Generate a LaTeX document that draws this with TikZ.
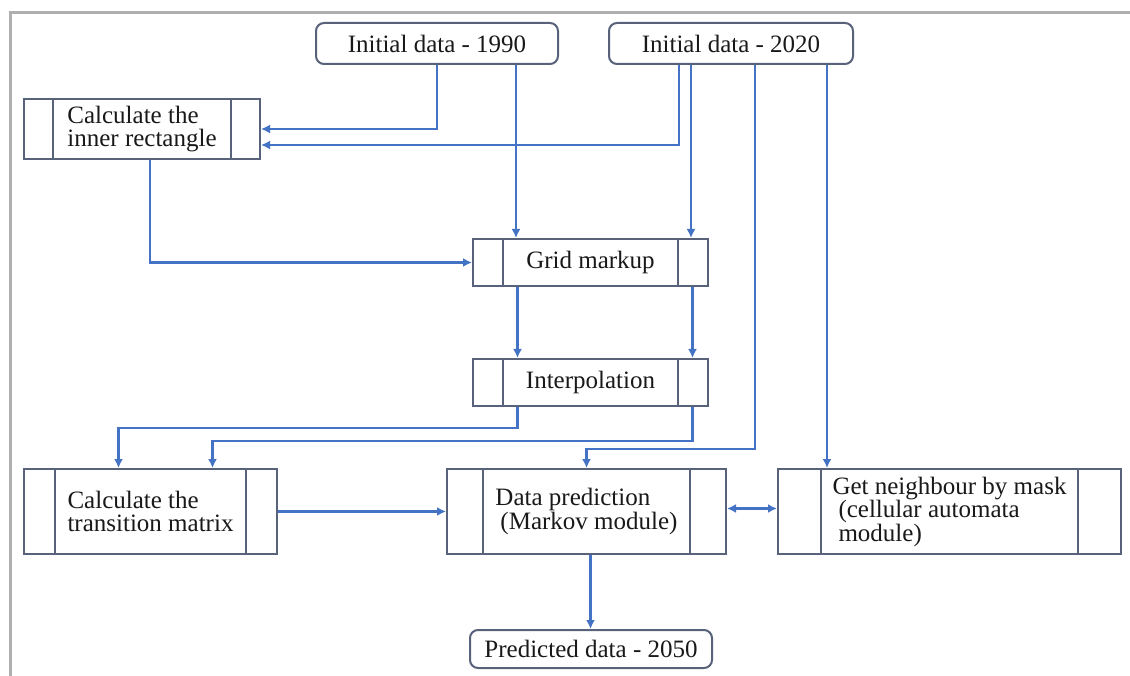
\documentclass[tikz,border=0pt]{standalone}
\usepackage{fontspec}
\setmainfont{Liberation Serif}
\usepackage{xcolor}
\usetikzlibrary{arrows.meta}

\definecolor{flowblue}{RGB}{68,114,196}
\definecolor{boxgray}{RGB}{88,98,122}
\definecolor{framegray}{RGB}{175,175,175}
\definecolor{txtgray}{RGB}{25,25,25}

\newcommand\diagfont{\fontsize{25}{23.5}\selectfont\lineskiplimit=-20pt\relax}

\begin{document}
\begin{tikzpicture}[x=1pt, y=-1pt,
  font=\diagfont,
  flow/.style={draw=flowblue, line width=2.5pt, -{Latex[length=9pt,width=9pt]}},
  dataio/.style={draw=boxgray, line width=2pt, rounded corners=8pt, fill=white, text=txtgray, inner sep=0pt},
  procbox/.style={draw=boxgray, line width=2pt, fill=white, text=txtgray, align=left, inner sep=0pt,
    path picture={\draw[boxgray, line width=2pt]
      ([xshift=#1]path picture bounding box.north west) -- ([xshift=#1]path picture bounding box.south west)
      ([xshift=-#1]path picture bounding box.north east) -- ([xshift=-#1]path picture bounding box.south east);}}]

\useasboundingbox (0,0) rectangle (1130,676);

\draw [framegray, line width=3pt] (1130,13) -- (10,13) -- (10,676);

\node[dataio, minimum width=242, minimum height=41] (init1990) at (437,43.5) {Initial data - 1990};
\node[dataio, minimum width=244, minimum height=41] (init2020) at (731,43.5) {Initial data - 2020};

\node[procbox=29, minimum width=236, minimum height=60] (calcinner) at (142,129) {Calculate the\\inner rectangle};

\node[procbox=30, minimum width=235, minimum height=47] (grid) at (590.5,262.5) {Grid markup};
\node[procbox=30, minimum width=235, minimum height=47] (interp) at (590.5,382.5) {Interpolation};

\node[procbox=31, minimum width=253, minimum height=85] (calctrans) at (150.5,511.5) {Calculate the\\transition matrix};
\node[procbox=36, minimum width=279, minimum height=85] (predict) at (586.5,511.5) {Data prediction\\\hspace*{5pt}(Markov module)};
\node[procbox=43, minimum width=343, minimum height=85] (neighbour) at (949.5,511.5) {Get neighbour by mask\\\hspace*{6pt}(cellular automata\\\hspace*{6pt}module)};

\node[dataio, minimum width=242, minimum height=38] (predicted) at (591,649) {Predicted data - 2050};

\draw [flow] (init1990.south) |- (calcinner.east);
\draw [flow] ([xshift=-52]init2020.south) |- ([yshift=-16]calcinner.east);

\draw [flow] ([xshift=79]init1990.south) -- ([xshift=79]init1990.south |- grid.north);
\draw [flow] ([xshift=-40]init2020.south) -- ([xshift=-40]init2020.south |- grid.north);
\draw [flow] ([xshift=8]calcinner.south) |- (grid.west);

\draw [flow] ([xshift=-73]grid.south) -- ([xshift=-73]interp.north);
\draw [flow] ([xshift=102]grid.south) -- ([xshift=102]interp.north);

\draw [flow] ([xshift=-73]interp.south) -- ++(0,21) -| ([xshift=-32]calctrans.north);
\draw [flow] ([xshift=102]interp.south) -- ++(0,34) -| ([xshift=62]calctrans.north);

\draw [flow] ([xshift=24]init2020.south) |- ([yshift=19]predict.north) -- (predict.north);
\draw [flow] ([xshift=96]init2020.south) -- ([xshift=96]init2020.south |- neighbour.north);

\draw [flow] (calctrans.east) -- (predict.west);
\draw [flow, {Latex[length=9pt,width=9pt]}-{Latex[length=9pt,width=9pt]}] ([yshift=3]predict.east) -- ([yshift=3]neighbour.west);
\draw [flow] ([xshift=4]predict.south) -- ([xshift=4]predict.south |- predicted.north);

\end{tikzpicture}
\end{document}
